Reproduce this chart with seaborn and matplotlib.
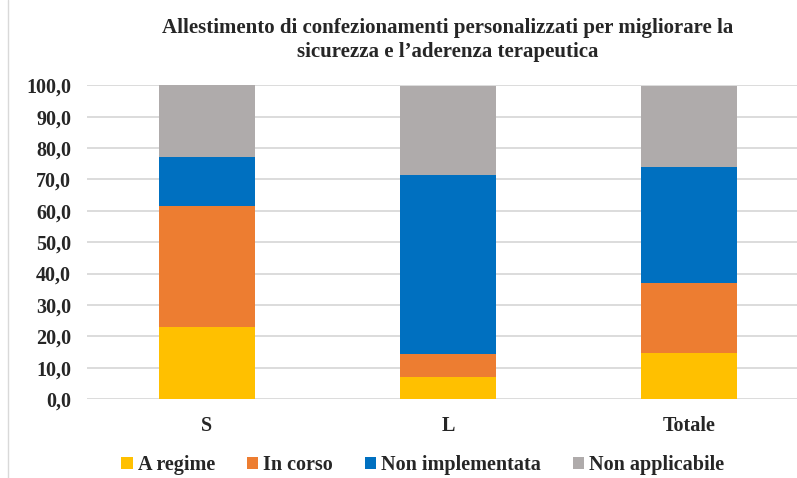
import numpy as np
import pandas as pd
import matplotlib
matplotlib.use("Agg")
import matplotlib.pyplot as plt
import seaborn as sns
from matplotlib.patches import Patch
from matplotlib.lines import Line2D

categories = ["S", "L", "Totale"]
series = ["A regime", "In corso", "Non implementata", "Non applicabile"]
a_regime = [23.1, 7.1, 14.8]
in_corso = [38.5, 7.1, 22.2]
non_implementata = [15.4, 57.1, 37.0]
non_applicabile = [23.1, 28.6, 25.9]
colors = ["#FFC000", "#ED7D31", "#0070C0", "#AFABAB"]
title = "Allestimento di confezionamenti personalizzati per migliorare la\nsicurezza e l\u2019aderenza terapeutica"

sns.set_style("white")
plt.rcParams["font.family"] = ["Liberation Serif", "DejaVu Serif"]

values = np.array([a_regime, in_corso, non_implementata, non_applicabile])
cum = np.cumsum(values, axis=0)
df = pd.DataFrame(cum.T, columns=series)
df["cat"] = categories

fig = plt.figure(figsize=(7.97, 4.78), dpi=100)
ax = fig.add_axes([86.5 / 797, 79 / 478, 723 / 797, 313.7 / 478])

# draw cumulative totals from the top layer down so each layer shows as a stacked segment
for name, col in reversed(list(zip(series, colors))):
    sns.barplot(data=df, x="cat", y=name, color=col, width=0.4, ax=ax,
                saturation=1, edgecolor="none", linewidth=0, zorder=3)

ax.set_ylim(0, 100)
ax.set_xlim(-0.5, 2.5)
ax.set_yticks(np.arange(0, 101, 10))
ax.set_yticklabels([f"{v:.1f}".replace(".", ",") for v in np.arange(0, 101, 10)],
                   fontsize=14.5, fontweight="bold")
ax.set_xticks(range(len(categories)))
ax.set_xticklabels(categories, fontsize=14.5, fontweight="bold")
ax.tick_params(axis="y", length=0, pad=11)
ax.tick_params(axis="x", length=0, pad=12)
ax.set_xlabel("")
ax.set_ylabel("")
ax.yaxis.grid(True, color="#D9D9D9", linewidth=1.3, zorder=0)
ax.set_axisbelow(True)
for s in ax.spines.values():
    s.set_visible(False)

fig.text(448 / 797, 1 - 40 / 478, title, ha="center", va="center",
         fontsize=15, fontweight="bold", linespacing=1.2)

handles = [Patch(facecolor=c, edgecolor="none", label=n) for n, c in zip(series, colors)]
fig.legend(handles=handles, loc="center", bbox_to_anchor=(423 / 797, 1 - 465 / 478),
           ncol=4, frameon=False, prop={"size": 14.5, "weight": "bold"},
           handlelength=0.55, handleheight=0.55, handletextpad=0.25, columnspacing=1.6)

fig.add_artist(Line2D([8 / 797, 8 / 797], [0, 1], color="#D9D9D9", linewidth=1))

plt.savefig("out.png", dpi=100)
plt.close()
